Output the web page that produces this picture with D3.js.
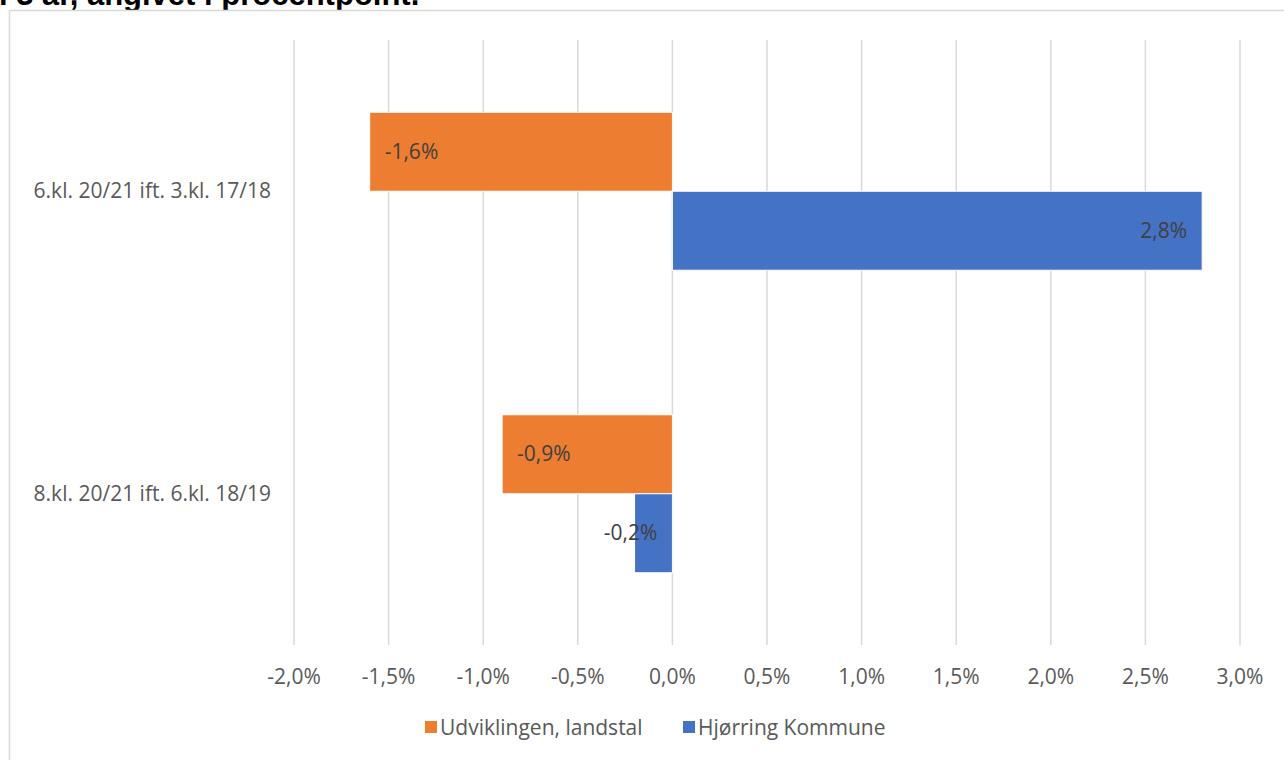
<!DOCTYPE html>
<html>
<head>
<meta charset="utf-8">
<script src="https://cdn.jsdelivr.net/npm/d3@7"></script>
<style>
  body { margin: 0; background: #fff; }
  svg { display: block; }
</style>
</head>
<body>
<script>
// chart data
var categories = ["6.kl. 20/21 ift. 3.kl. 17/18", "8.kl. 20/21 ift. 6.kl. 18/19"];
var seriesNames = ["Udviklingen, landstal", "Hjørring Kommune"];
var landstal = [-0.016, -0.009];
var hjoerring = [0.028, -0.002];
var xTicks = [-0.02, -0.015, -0.01, -0.005, 0, 0.005, 0.01, 0.015, 0.02, 0.025, 0.03];

var colors = ["#ED7D31", "#4472C4"];
var gridColor = "#d9d9d9";
var textColor = "#595959";
var labelColor = "#404040";
var font = "'Open Sans', sans-serif";
var fontSize = "21px";

var width = 1284, height = 760;

var locale = d3.formatLocale({decimal: ",", thousands: ".", grouping: [3], currency: ["", " kr"], minus: "-"});
var pct = locale.format(".1%");

var svg = d3.select("body").append("svg")
    .attr("width", width)
    .attr("height", height);

svg.append("rect")
    .attr("width", width).attr("height", height)
    .attr("fill", "#fff");

// title, cut off at the top edge like in the source screenshot
svg.append("text")
    .text("i 3 år, angivet i procentpoint.")
    .attr("x", -1)
    .attr("y", 5)
    .attr("font-family", "Arial, 'Liberation Sans', sans-serif")
    .attr("font-weight", "bold")
    .attr("font-size", "31px")
    .attr("fill", "#000");

// chart frame (runs off the right and bottom edges)
svg.append("rect")
    .attr("x", 9.5).attr("y", 10.5)
    .attr("width", width).attr("height", height)
    .attr("fill", "#fff")
    .attr("stroke", gridColor)
    .attr("stroke-width", 1.5);

var x = d3.scaleLinear().domain([-0.02, 0.03]).range([294, 1240]);
var y = d3.scaleBand().domain(categories).range([40, 645]);
var ySub = d3.scaleBand().domain(seriesNames).range([0, y.bandwidth()])
    .paddingInner(0).paddingOuter(0.915);

// gridlines
svg.append("g").selectAll("line")
    .data(xTicks)
    .join("line")
    .attr("x1", d => x(d)).attr("x2", d => x(d))
    .attr("y1", 40).attr("y2", 645)
    .attr("stroke", gridColor)
    .attr("stroke-width", 1.5);

// x tick labels
svg.append("g").selectAll("text")
    .data(xTicks)
    .join("text")
    .text(d => pct(d))
    .attr("x", d => x(d))
    .attr("y", 684)
    .attr("text-anchor", "middle")
    .attr("font-family", font)
    .attr("font-size", fontSize)
    .attr("fill", textColor);

// category labels
svg.append("g").selectAll("text")
    .data(categories)
    .join("text")
    .text(d => d)
    .attr("x", 271)
    .attr("y", d => y(d) + y.bandwidth() / 2 + 7)
    .attr("text-anchor", "end")
    .attr("font-family", font)
    .attr("font-size", fontSize)
    .attr("fill", textColor);

var rows = [];
categories.forEach(function(c, i) {
    rows.push({cat: c, series: seriesNames[0], value: landstal[i], color: colors[0]});
    rows.push({cat: c, series: seriesNames[1], value: hjoerring[i], color: colors[1]});
});

var bars = svg.append("g");
bars.selectAll("rect")
    .data(rows)
    .join("rect")
    .attr("x", d => Math.min(x(0), x(d.value)))
    .attr("width", d => Math.abs(x(d.value) - x(0)))
    .attr("y", d => y(d.cat) + ySub(d.series))
    .attr("height", ySub.bandwidth())
    .attr("fill", d => d.color)
    .attr("stroke", "#fff")
    .attr("stroke-width", 1);

// data labels at inside end, fall back to outside base when bar is too short
var pad = 15;
bars.selectAll("text")
    .data(rows)
    .join("text")
    .text(d => pct(d.value))
    .attr("font-family", font)
    .attr("font-size", fontSize)
    .attr("fill", labelColor)
    .attr("y", d => y(d.cat) + ySub(d.series) + ySub.bandwidth() / 2 + 7)
    .each(function(d) {
        var t = d3.select(this);
        var w = this.getComputedTextLength();
        var barW = Math.abs(x(d.value) - x(0));
        if (barW >= w + 2 * pad) {
            if (d.value < 0) t.attr("x", x(d.value) + pad).attr("text-anchor", "start");
            else t.attr("x", x(d.value) - pad).attr("text-anchor", "end");
        } else {
            if (d.value < 0) t.attr("x", x(0) - pad).attr("text-anchor", "end");
            else t.attr("x", x(0) + pad).attr("text-anchor", "start");
        }
    });

// legend
var legend = svg.append("g");
var legendX = [425, 683];
seriesNames.forEach(function(s, i) {
    legend.append("rect")
        .attr("x", legendX[i]).attr("y", 721)
        .attr("width", 12).attr("height", 12)
        .attr("fill", colors[i]);
    legend.append("text")
        .text(s)
        .attr("x", legendX[i] + 15)
        .attr("y", 735)
        .attr("font-family", font)
        .attr("font-size", fontSize)
        .attr("fill", textColor);
});
</script>
</body>
</html>
